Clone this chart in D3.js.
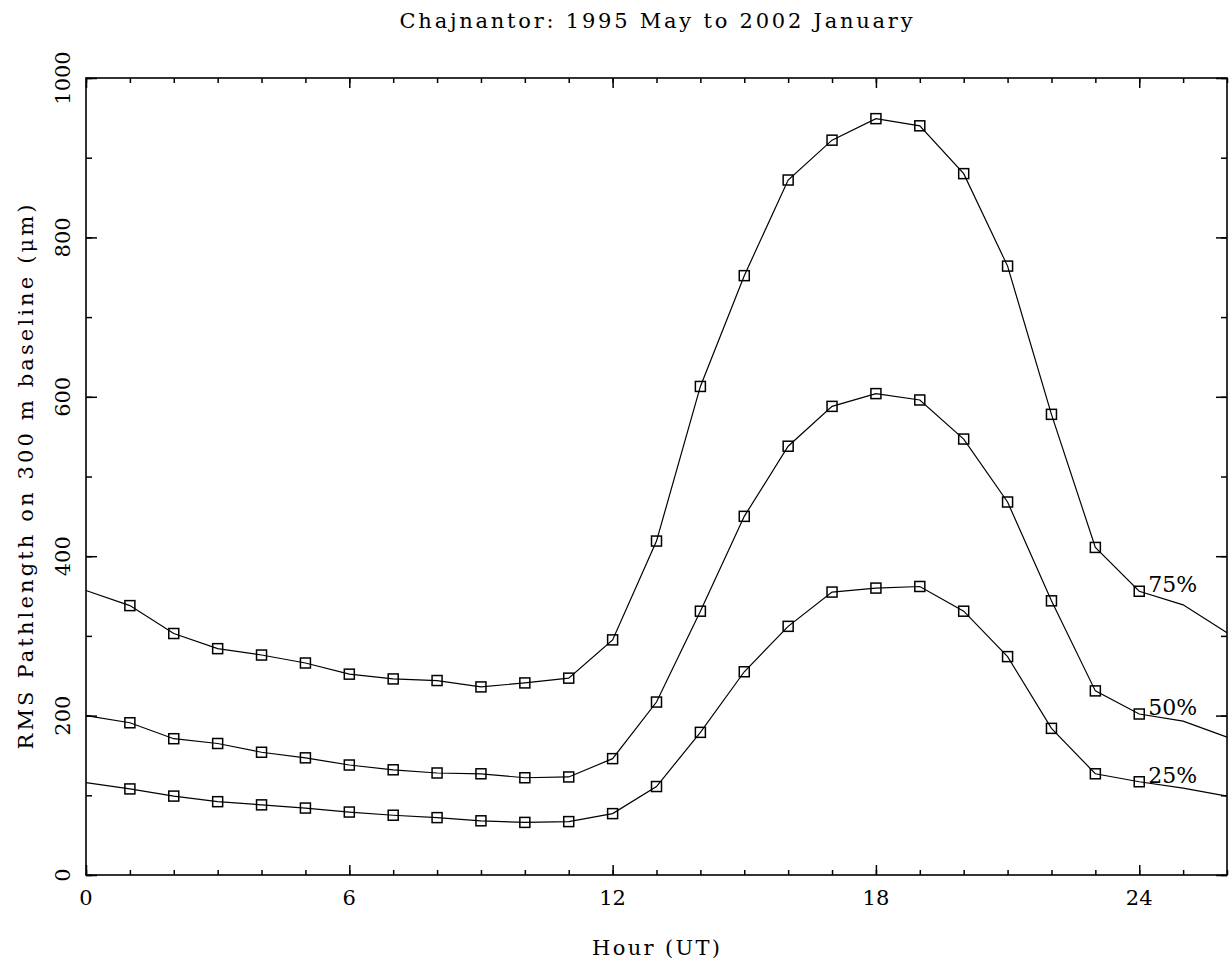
<!DOCTYPE html>
<html lang="en">
<head>
    <meta charset="UTF-8">
    <title>Chajnantor RMS Pathlength</title>
    <script src="https://d3js.org/d3.v7.min.js"></script>
    <style>
        body { margin: 0; background: #fff; }
        text { font-family: "DejaVu Serif", "Liberation Serif", serif; fill: #000; }
    </style>
</head>
<body>
    <div id="chart"></div>
    <script>
        var width = 1232,
            height = 965;

        // hour 0..26 (curve wraps round past 24 h)
        var hours = [0, 1, 2, 3, 4, 5, 6, 7, 8, 9, 10, 11, 12, 13, 14, 15, 16, 17, 18, 19, 20, 21, 22, 23, 24, 25, 26];
        var p75 = [357, 338, 303, 284, 276, 266, 252, 246, 244, 236, 241, 247, 295, 419, 613, 752, 872, 922, 949, 940, 880, 764, 578, 411, 356, 339, 304];
        var p50 = [200, 191, 171, 165, 154, 147, 138, 132, 128, 127, 122, 123, 146, 217, 331, 450, 538, 588, 604, 596, 547, 468, 344, 231, 202, 193, 173];
        var p25 = [116, 108, 99, 92, 88, 84, 79, 75, 72, 68, 66, 67, 77, 111, 179, 255, 312, 355, 360, 362, 331, 274, 184, 127, 117, 109, 99];
        var seriesNames = ['75%', '50%', '25%'];
        var xMajor = [0, 6, 12, 18, 24];
        var yMajor = [0, 200, 400, 600, 800, 1000];

        var series = [p75, p50, p25].map(function (vals, k) {
            return { name: seriesNames[k], values: hours.map(function (h, i) { return { h: h, v: vals[i] }; }) };
        });

        var svg = d3.select('#chart')
            .append('svg')
            .attr('width', width)
            .attr('height', height);

        var x = d3.scaleLinear().domain([0, 26]).range([86, 1227]),
            y = d3.scaleLinear().domain([0, 1000]).range([875, 78]);

        // ticks, all pointing inward on the four sides
        function minorX(g, flip) {
            g.call((flip ? d3.axisTop(x) : d3.axisBottom(x)).tickValues(d3.range(0, 27)).tickSize(-5).tickFormat(''));
        }
        function majorX(g, flip) {
            g.call((flip ? d3.axisTop(x) : d3.axisBottom(x)).tickValues(xMajor).tickSize(-10).tickFormat(''));
        }
        function minorY(g, right) {
            g.call((right ? d3.axisRight(y) : d3.axisLeft(y)).tickValues(d3.range(0, 1001, 100)).tickSize(-6).tickFormat(''));
        }
        function majorY(g, right) {
            g.call((right ? d3.axisRight(y) : d3.axisLeft(y)).tickValues(yMajor).tickSize(-11).tickFormat(''));
        }

        var gBottom = svg.append('g').attr('transform', 'translate(0,875)');
        gBottom.append('g').call(minorX, false);
        gBottom.append('g').call(majorX, false);
        var gTop = svg.append('g').attr('transform', 'translate(0,78)');
        gTop.append('g').call(minorX, true);
        gTop.append('g').call(majorX, true);
        var gLeft = svg.append('g').attr('transform', 'translate(86,0)');
        gLeft.append('g').call(minorY, false);
        gLeft.append('g').call(majorY, false);
        var gRight = svg.append('g').attr('transform', 'translate(1227,0)');
        gRight.append('g').call(minorY, true);
        gRight.append('g').call(majorY, true);

        svg.selectAll('.domain').remove();
        svg.selectAll('.tick line').attr('stroke', '#000').attr('stroke-width', 1.5);

        svg.append('rect')
            .attr('x', x(0)).attr('y', y(1000))
            .attr('width', x(26) - x(0)).attr('height', y(0) - y(1000))
            .attr('fill', 'none').attr('stroke', '#000').attr('stroke-width', 1.6);

        // tick labels
        svg.append('g').selectAll('text')
            .data(xMajor).enter().append('text')
            .attr('x', function (d) { return x(d); })
            .attr('y', 905)
            .attr('text-anchor', 'middle')
            .attr('font-size', '21px')
            .text(function (d) { return d; });

        svg.append('g').selectAll('text')
            .data(yMajor).enter().append('text')
            .attr('transform', function (d) { return 'translate(70,' + y(d) + ') rotate(-90)'; })
            .attr('text-anchor', 'middle')
            .attr('font-size', '21px')
            .text(function (d) { return d; });

        // titles
        svg.append('text')
            .attr('x', 656).attr('y', 28)
            .attr('text-anchor', 'middle')
            .attr('font-size', '21px')
            .attr('textLength', 513)
            .attr('lengthAdjust', 'spacing')
            .text('Chajnantor: 1995 May to 2002 January');

        svg.append('text')
            .attr('x', 656).attr('y', 955)
            .attr('text-anchor', 'middle')
            .attr('font-size', '21px')
            .attr('textLength', 128)
            .attr('lengthAdjust', 'spacing')
            .text('Hour (UT)');

        svg.append('text')
            .attr('transform', 'translate(33,477) rotate(-90)')
            .attr('text-anchor', 'middle')
            .attr('font-size', '21px')
            .attr('textLength', 545)
            .attr('lengthAdjust', 'spacing')
            .text('RMS Pathlength on 300 m baseline (\u03bcm)');

        // curves
        var line = d3.line()
            .x(function (d) { return x(d.h); })
            .y(function (d) { return y(d.v); });

        svg.append('g').selectAll('path')
            .data(series).enter().append('path')
            .attr('d', function (d) { return line(d.values); })
            .attr('fill', 'none')
            .attr('stroke', '#000')
            .attr('stroke-width', 1.2);

        // square markers for hours 1..24
        series.forEach(function (s) {
            svg.append('g').selectAll('rect')
                .data(s.values.filter(function (d) { return d.h >= 1 && d.h <= 24; }))
                .enter().append('rect')
                .attr('x', function (d) { return x(d.h) - 5; })
                .attr('y', function (d) { return y(d.v) - 5; })
                .attr('width', 10).attr('height', 10)
                .attr('fill', 'none')
                .attr('stroke', '#000')
                .attr('stroke-width', 1.5);

            var last = s.values[24];
            svg.append('text')
                .attr('x', x(last.h) + 9)
                .attr('y', y(last.v) + 1)
                .attr('font-size', '22px')
                .attr('textLength', 49)
                .attr('lengthAdjust', 'spacing')
                .text(s.name);
        });
    </script>
</body>
</html>
